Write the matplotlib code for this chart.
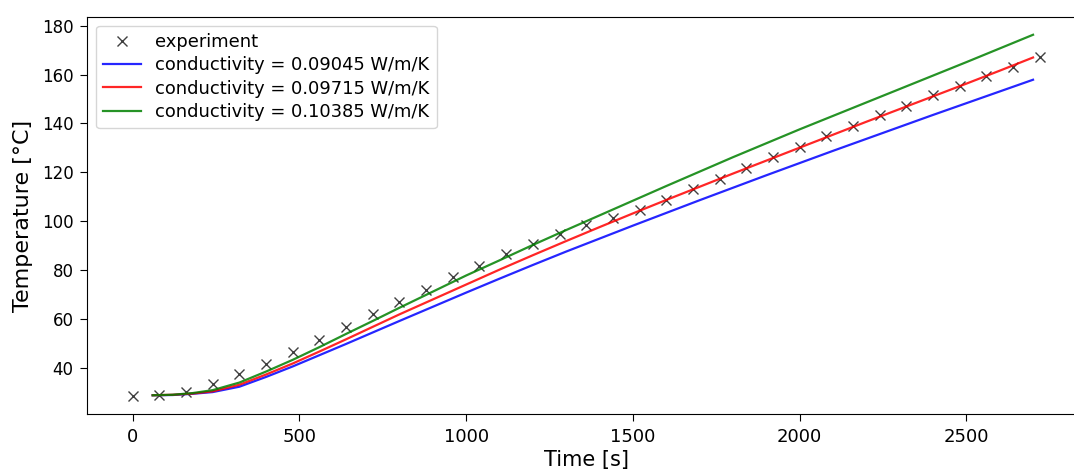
import matplotlib
matplotlib.use("Agg")
import matplotlib.pyplot as plt
from matplotlib import font_manager as fm

# experiment data
exp_time = [0, 80, 160, 240, 320, 400, 480, 560, 640, 720, 800, 880, 960, 1040,
            1120, 1200, 1280, 1360, 1440, 1520, 1600, 1680, 1760, 1840, 1920,
            2000, 2080, 2160, 2240, 2320, 2400, 2480, 2560, 2640, 2720]
exp_temp = [28.4, 28.9, 30.1, 33.4, 37.4, 41.4, 46.6, 51.3, 56.7, 61.9, 67.1,
            71.9, 77.1, 81.8, 86.8, 90.8, 94.8, 98.6, 101.4, 104.7, 108.7, 113.0,
            117.2, 121.8, 126.3, 130.5, 135.0, 138.8, 143.6, 147.3, 151.5, 155.5,
            159.3, 163.1, 167.1]

# simulation data
sim_time = [60, 120, 180, 240, 320, 400, 480, 560, 640, 720, 800, 900, 1000,
            1100, 1200, 1300, 1400, 1500, 1600, 1700, 1800, 1900, 2000, 2100,
            2200, 2300, 2400, 2500, 2600, 2700]
temp_k1 = [28.8, 28.9, 29.4, 30.1, 32.3, 36.3, 40.6, 45.2, 49.8, 54.5, 59.2,
           65.0, 70.8, 76.5, 82.1, 87.6, 92.9, 98.2, 103.4, 108.6, 113.7, 118.8,
           123.8, 128.8, 133.7, 138.6, 143.5, 148.3, 153.1, 157.9]
temp_k2 = [28.8, 29.0, 29.5, 30.4, 33.1, 37.3, 41.8, 46.7, 51.7, 56.8, 61.9,
           68.0, 74.1, 80.2, 86.1, 91.9, 97.6, 103.2, 108.7, 114.1, 119.5, 124.8,
           130.1, 135.4, 140.7, 145.9, 151.1, 156.3, 161.6, 167.0]
temp_k3 = [28.8, 29.0, 29.7, 30.9, 34.0, 38.5, 43.3, 48.5, 53.9, 59.2, 64.6,
           71.2, 77.8, 84.0, 90.3, 96.4, 102.4, 108.4, 114.4, 120.3, 126.2, 131.9,
           137.6, 143.1, 148.6, 154.1, 159.6, 165.1, 170.7, 176.3]

labels = ["experiment",
          "conductivity = 0.09045 W/m/K",
          "conductivity = 0.09715 W/m/K",
          "conductivity = 0.10385 W/m/K"]

# narrow font for x tick labels (reference shows condensed digits)
names = {f.name for f in fm.fontManager.ttflist}
narrow_family = "Liberation Sans Narrow" if "Liberation Sans Narrow" in names else "DejaVu Sans"

fig = plt.figure(figsize=(10.74, 4.69), dpi=100)
ax = fig.add_axes([0.0813, 0.1166, 0.929, 0.8478])

ax.plot(exp_time, exp_temp, 'x', color='k', alpha=0.75, markersize=7,
        label=labels[0])
ax.plot(sim_time, temp_k1, '-', color='b', alpha=0.85, lw=1.6, label=labels[1])
ax.plot(sim_time, temp_k2, '-', color='r', alpha=0.85, lw=1.6, label=labels[2])
ax.plot(sim_time, temp_k3, '-', color='g', alpha=0.85, lw=1.6, label=labels[3])

ax.set_xticks([0, 500, 1000, 1500, 2000, 2500])
ax.set_yticks([40, 60, 80, 100, 120, 140, 160, 180])
ax.tick_params(axis='y', labelsize=12, length=5, pad=5)
ax.tick_params(axis='x', length=5, pad=5)
for lab in ax.get_xticklabels():
    lab.set_family(narrow_family)
    lab.set_fontsize(13)
ax.set_xlabel("Time [s]", fontsize=15, labelpad=3)
ax.set_ylabel("Temperature [°C]", fontsize=16, labelpad=6)
ax.legend(loc="upper left", fontsize=12.9, labelspacing=0.3,
          handlelength=2.1, handletextpad=0.8)

fig.savefig("out.png", dpi=100)
